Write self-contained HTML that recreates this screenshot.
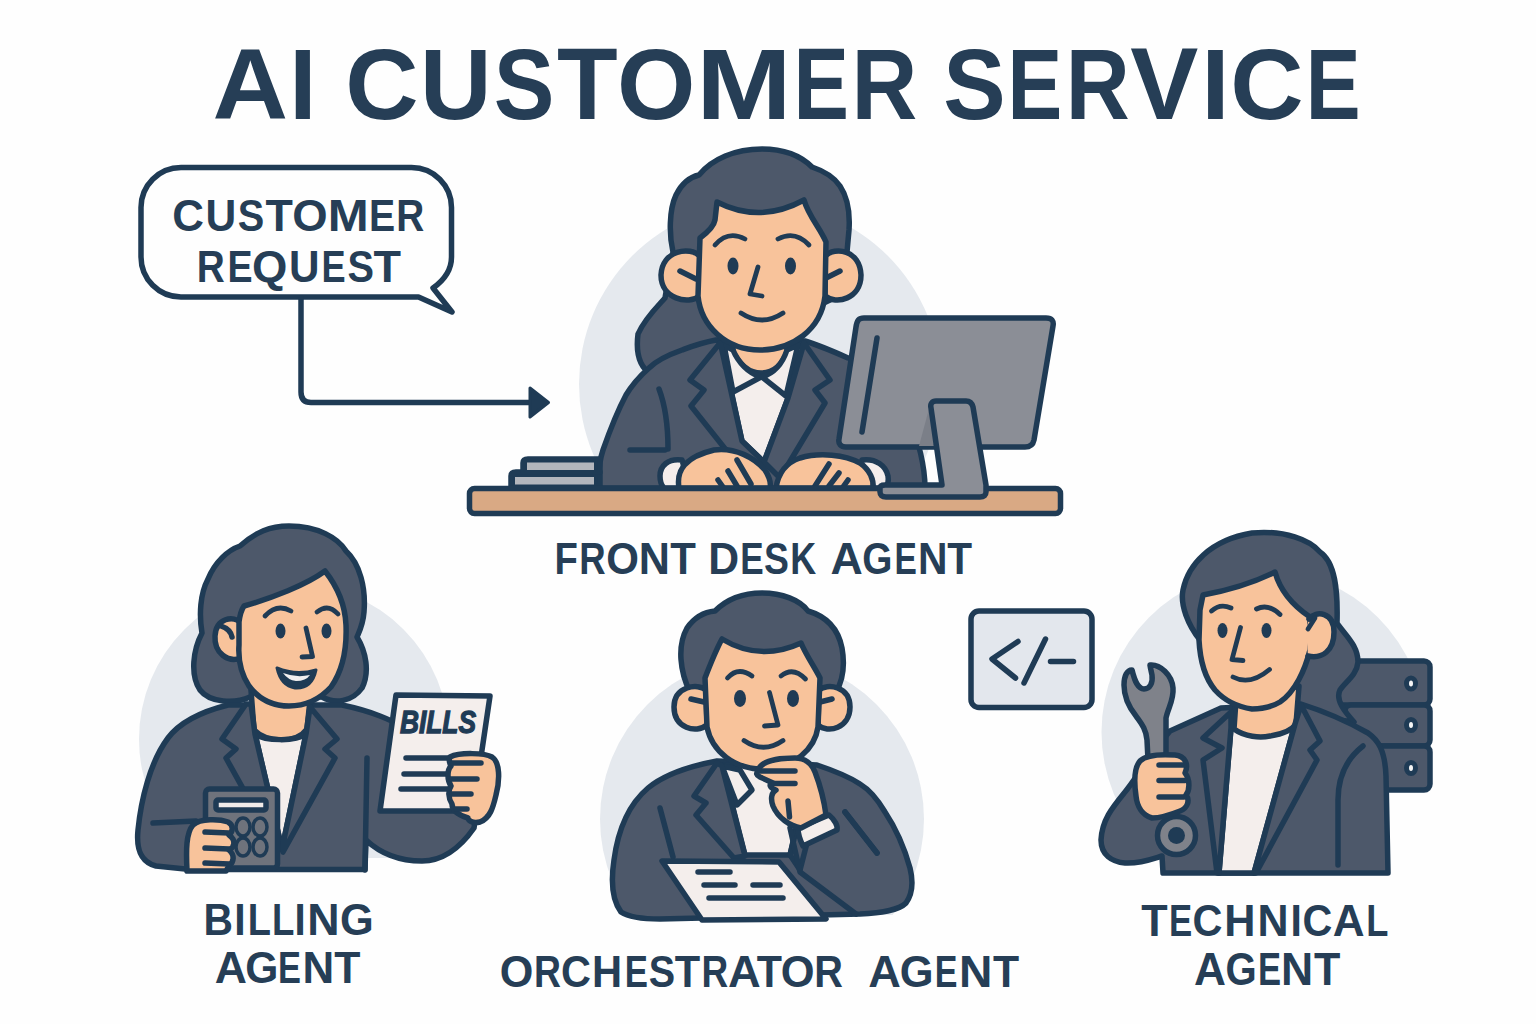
<!DOCTYPE html>
<html><head><meta charset="utf-8"><style>
html,body{margin:0;padding:0;background:#fff;width:1536px;height:1024px;overflow:hidden}
svg{display:block}
.o{stroke:#1f3b55;stroke-width:5.5;stroke-linejoin:round;stroke-linecap:round}
.h{fill:#4d586a}.sk{fill:#f8c39b}.w{fill:#f4eeec}.n{fill:none}.f{stroke-width:4.8}.d{fill:#1f3b55}
text{font-family:"Liberation Sans",sans-serif;font-weight:bold;fill:#263e56}
</style></head><body>
<svg width="1536" height="1024" viewBox="0 0 1536 1024">
<rect width="1536" height="1024" fill="#fefefe"/>
<defs>
<clipPath id="cfd"><rect x="0" y="0" width="1536" height="490"/></clipPath>
<clipPath id="cbil"><rect x="0" y="0" width="1536" height="858"/></clipPath>
<clipPath id="corc"><rect x="0" y="0" width="1536" height="915"/></clipPath>
<clipPath id="ctec"><rect x="0" y="0" width="1536" height="790"/><rect x="0" y="780" width="1388" height="93"/></clipPath>
</defs>
<!-- title -->
<g id="title">
<text transform="translate(215.20,119.00) scale(1.0358,1)" x="-2.52" y="0" font-size="101.02">A</text>
<text transform="translate(295.70,119.00) scale(0.9690,1)" x="-6.76" y="0" font-size="101.02">I</text>
<text transform="translate(349.40,119.00) scale(1.0053,1)" x="-4.14" y="0" font-size="101.02">C</text>
<text transform="translate(426.00,119.00) scale(0.9799,1)" x="-6.07" y="0" font-size="101.02">U</text>
<text transform="translate(496.30,119.00) scale(0.9005,1)" x="-2.91" y="0" font-size="101.02">S</text>
<text transform="translate(558.00,119.00) scale(0.9834,1)" x="-1.13" y="0" font-size="101.02">T</text>
<text transform="translate(621.00,119.00) scale(0.9973,1)" x="-4.14" y="0" font-size="101.02">O</text>
<text transform="translate(704.00,119.00) scale(1.1326,1)" x="-6.76" y="0" font-size="101.02">M</text>
<text transform="translate(799.00,119.00) scale(0.8222,1)" x="-6.76" y="0" font-size="101.02">E</text>
<text transform="translate(857.50,119.00) scale(0.9029,1)" x="-6.76" y="0" font-size="101.02">R</text>
<text transform="translate(946.00,119.00) scale(0.9253,1)" x="-2.91" y="0" font-size="101.02">S</text>
<text transform="translate(1013.00,119.00) scale(0.8116,1)" x="-6.76" y="0" font-size="101.02">E</text>
<text transform="translate(1071.70,119.00) scale(0.8780,1)" x="-6.76" y="0" font-size="101.02">R</text>
<text transform="translate(1131.00,119.00) scale(1.0106,1)" x="-0.69" y="0" font-size="101.02">V</text>
<text transform="translate(1208.00,119.00) scale(1.0102,1)" x="-6.76" y="0" font-size="101.02">I</text>
<text transform="translate(1234.40,119.00) scale(1.0053,1)" x="-4.14" y="0" font-size="101.02">C</text>
<text transform="translate(1311.30,119.00) scale(0.8134,1)" x="-6.76" y="0" font-size="101.02">E</text>
</g>
<!-- speech bubble -->
<g fill="none" stroke="#1f3b55" stroke-width="5.5" stroke-linejoin="round" stroke-linecap="round">
<path d="M181,167.5 H411.5 A40,40 0 0 1 451.5,207.5 V257 Q451.5,275 433,288 L452,312 L418.5,297 H181 A40,40 0 0 1 141,257 V207.5 A40,40 0 0 1 181,167.5 Z"/>
<path d="M301,298 V392 Q301,402.5 311,402.5 H532"/>
</g>
<path d="M530,388 L548.5,402.5 L530,417 Z" fill="#1f3b55" stroke="#1f3b55" stroke-width="3" stroke-linejoin="round"/>
<g id="t_cust">
<text transform="translate(174.10,230.80) scale(0.9711,1)" x="-1.85" y="0" font-size="45.20">C</text>
<text transform="translate(208.00,230.80) scale(0.9422,1)" x="-2.71" y="0" font-size="45.20">U</text>
<text transform="translate(238.80,230.80) scale(0.8788,1)" x="-1.30" y="0" font-size="45.20">S</text>
<text transform="translate(266.00,230.80) scale(0.9918,1)" x="-0.51" y="0" font-size="45.20">T</text>
<text transform="translate(294.20,230.80) scale(1.0061,1)" x="-1.85" y="0" font-size="45.20">O</text>
<text transform="translate(331.00,230.80) scale(1.0883,1)" x="-3.02" y="0" font-size="45.20">M</text>
<text transform="translate(371.50,230.80) scale(0.8675,1)" x="-3.02" y="0" font-size="45.20">E</text>
<text transform="translate(398.80,230.80) scale(0.8573,1)" x="-3.02" y="0" font-size="45.20">R</text>
</g>
<g id="t_req">
<text transform="translate(199.30,281.80) scale(0.8800,1)" x="-2.95" y="0" font-size="44.04">R</text>
<text transform="translate(230.00,281.80) scale(0.8539,1)" x="-2.95" y="0" font-size="44.04">E</text>
<text transform="translate(253.80,281.80) scale(1.0326,1)" x="-1.81" y="0" font-size="44.04">Q</text>
<text transform="translate(291.60,281.80) scale(0.9595,1)" x="-2.65" y="0" font-size="44.04">U</text>
<text transform="translate(324.00,281.80) scale(0.8216,1)" x="-2.95" y="0" font-size="44.04">E</text>
<text transform="translate(348.70,281.80) scale(0.9020,1)" x="-1.27" y="0" font-size="44.04">S</text>
<text transform="translate(374.00,281.80) scale(1.0218,1)" x="-0.49" y="0" font-size="44.04">T</text>
</g>
<!-- circles -->
<circle cx="760" cy="384" r="181" fill="#e5e9ee" clip-path="url(#cfd)"/>
<circle cx="294" cy="739" r="155" fill="#e5e9ee" clip-path="url(#cbil)"/>
<circle cx="762" cy="819" r="162" fill="#e5e9ee" clip-path="url(#corc)"/>
<circle cx="1263.5" cy="732" r="162" fill="#e5e9ee" clip-path="url(#ctec)"/>
<g id="fd">
<!-- hair back -->
<path class="o h" d="M673,252 C669,235 669,210 676,195 C682,183 690,177 699,175 C712,159 735,149 762,149 C785,149 802,157 812,167 C824,171 834,177 840,186 C848,198 850,215 849,230 L847,252 L830,300 L720,352 L651,374 C638,366 636,350 638,334 C645,318 658,306 665,298 Z"/>
<!-- suit -->
<path class="o h" d="M716,340 C700,343 690,347 682,350 C665,356 655,362 649,368 C640,376 632,385 626,395 C618,410 610,430 603,450 C599,462 598,475 599,488 L925,488 C925,470 920,440 905,410 C890,380 870,365 848,358 C830,350 815,344 805,341 Z"/>
<!-- shirt -->
<path class="o w" d="M721,344 L804,344 L788,398 L764,462 L742,441 Z"/>
<!-- neck -->
<path class="o sk" d="M733,340 L733,352 C740,365 750,373 761,373 C773,373 782,365 787,352 L787,340 Z"/>
<!-- collars -->
<path class="o w" d="M724,345 L733,392 L761,377 C748,373 738,362 733,350 Z"/>
<path class="o w" d="M798,345 L786,396 L762,377 C775,373 783,362 787,350 Z"/>
<!-- lapels -->
<path class="o h" d="M720,343 L690,380 L704,390 L691,406 L742,470 L764,462 L742,441 L721,346 Z"/>
<path class="o h" d="M804,343 L830,380 L815,390 L825,403 L780,478 L764,462 L788,398 Z"/>
<!-- arm lines -->
<path class="o n" d="M659,389 C667,410 668,430 668,449"/>
<path class="o n" d="M630,450 L665,450"/>
<!-- ears -->
<path class="o sk" d="M700,256 C690,246 662,250 661,275 C661,299 688,305 700,296 Z"/>
<path class="o n" d="M680,271 L696,279"/>
<path class="o sk" d="M825,256 C835,246 860,250 861,275 C861,299 836,305 825,296 Z"/>
<path class="o n" d="M840,271 L826,278"/>
<!-- face -->
<path class="o sk" d="M717,202 Q760,224 804,200 C808,215 820,228 826,242 L825,296 C821,330 792,350 760,350 C726,350 701,326 698,296 L700,238 C708,232 714,226 715,220 L717,202 Z"/>
<!-- features -->
<ellipse class="d" cx="733" cy="266" rx="5.5" ry="8.5"/>
<ellipse class="d" cx="790.5" cy="266" rx="5.5" ry="8.5"/>
<path class="o n f" d="M715,245 Q728,230 745,239"/>
<path class="o n f" d="M778,239 Q795,230 809,245"/>
<path class="o n f" d="M758,267 L750,294 L762,296"/>
<path class="o n f" d="M741,313 Q762,327 783,313"/>
<!-- hands -->
<path class="o w" d="M682,460 C668,458 660,466 660,476 C660,482 662,486 664,488 L690,488 Z"/>
<path class="o sk" d="M679,488 C676,470 685,457 714,450 C735,447 755,458 765,470 C770,478 771,484 770,488 Z"/>
<path class="o n" d="M718,480 L723,487 M728,471 L737,486 M737,460 L751,484"/>
<path class="o w" d="M862,460 C876,458 886,466 888,476 C889,482 887,486 885,488 L860,488 Z"/>
<path class="o sk" d="M776,488 C778,475 785,463 800,458 C820,452 845,455 860,463 C870,470 874,480 873,488 Z"/>
<path class="o n" d="M829,464 L815,486 M839,473 L829,486 M848,480 L843,487"/>
<!-- books -->
<path class="o d" d="M511,486 L511,476 C511,473 513,472 516,472 L600,472 L600,486 Z"/>
<path class="o d" d="M523,472 L523,463 C523,460 525,459 528,459 L600,459 L600,472 Z"/>
<rect x="515" y="477" width="79" height="7.5" fill="#b3b6bd"/>
<rect x="527" y="462.5" width="67" height="7.5" fill="#b3b6bd"/>
<!-- desk -->
<rect class="o" fill="#d9a984" x="469.5" y="488.5" width="591" height="25" rx="5"/>
<!-- monitor -->
<path class="o" fill="#8b8e96" d="M864,318 L1046,318 C1052,318 1054,321 1053,326 L1034,440 C1033,445 1030,447 1025,447 L846,447 C841,447 838,444 839,439 L856,327 C857,320 859,318 864,318 Z"/>
<path fill="#7b7f88" d="M919,446 L930,405 L934,446 Z"/>
<path class="o n" d="M877,338 L862,432"/>
<path class="o" fill="#8b8e96" d="M936,401 L966,401 C970,401 972,403 973,407 L986,485 L986,492 C986,495 984,497 980,497 L886,497 C882,497 880,495 880,492 L880,488 C880,486 882,485 885,485 L942,485 L931,408 C930,404 932,401 936,401 Z"/>
</g>
<g id="bil">
<path class="o h" d="M289,526 C318,526 338,538 346,551 C360,564 366,588 364,612 C363,625 359,632 357,637 C366,652 370,672 362,688 C352,702 335,704 322,697 L250,697 C235,704 210,703 200,690 C190,675 193,650 202,633 C199,615 200,594 208,579 C215,562 228,550 240,546 C256,532 270,526 289,526 Z"/>
<path class="o h" d="M228,705 C200,712 180,722 168,738 C150,762 141,800 138,830 C136,850 141,862 156,866 L190,869.5 L365,869.5 L366,840 C382,855 400,861 422,861 C442,861 460,848 474,828 L478,800 L420,735 C400,726 385,714 342,705 Z"/>
<path class="o sk" d="M251,690 L254,730 C262,738 272,740 281,740 C292,740 302,736 307,729 L310,700 Z"/>
<path class="o w" d="M255,734 C265,741 295,742 306,734 L282,849 Z"/>
<path class="o h" d="M246,704 L222,739 L236,749 L226,758 L266,830 L282,849 L255,734 L251,704 Z"/>
<path class="o h" d="M310,707 L337,739 L325,749 L335,758 L283,852 L282,849 L306,734 Z"/>
<path class="o n" d="M367,758 L365,870"/>
<path class="o sk" d="M242,623 C233,615 216,618 215,636 C214,653 228,663 241,658 Z"/>
<path class="o n" d="M221,626 C227,628 231,632 232,637"/>
<path class="o sk" d="M244,606 C272,598 306,585 325,571 C336,585 345,602 346,625 C347,650 343,670 331,687 C319,700 304,706 289,706 C272,706 258,698 249,686 C241,674 238,660 239,645 L239,622 C240,614 242,609 244,606 Z"/>
<ellipse class="d" cx="280.5" cy="631" rx="5" ry="7.5"/>
<ellipse class="d" cx="326.5" cy="631" rx="5" ry="7.5"/>
<path class="o n f" d="M265,616 Q277,603 291,611"/>
<path class="o n f" d="M317,612 Q328,603 338,614"/>
<path class="o n f" d="M306,628 L312.5,656.5 L302,657"/>
<path class="d" d="M277,668 Q296,676 316,670 Q312,689 295,688 Q281,686 277,668 Z" stroke="#1f3b55" stroke-width="3" stroke-linejoin="round"/>
<path fill="#f2f0f0" d="M283,673 Q296,678 310,675 Q306,681 296,681 Q288,680 283,673 Z"/>
<path class="o n" d="M153,823 L196,821"/>
<rect class="o" fill="#6f737c" x="205.5" y="789" width="72" height="79" rx="4"/>
<rect class="o" fill="#f0ebe9" x="216" y="800" width="50" height="10" rx="2" stroke-width="4"/>
<g fill="#6f737c" stroke="#1f3b55" stroke-width="3.5"><ellipse cx="243" cy="827" rx="7" ry="9"/><ellipse cx="260" cy="827" rx="7" ry="9"/><ellipse cx="243" cy="847" rx="7" ry="9"/><ellipse cx="260" cy="847" rx="7" ry="9"/></g>
<path class="o sk" d="M187,871 C186,850 186,833 193,825 C200,818 220,819 228,822 C234,825 233,832 229,835 C236,840 235,847 229,850 C235,855 234,862 229,866 L226,871 Z"/>
<path class="o n" d="M205,832 L229,833 M205,848 L229,849 M205,863 L229,864"/>
<path class="o w" d="M396,695 L490,696 L473,811 L380,811 Z"/>
<text x="400" y="732.5" font-size="31" font-style="italic" textLength="76" lengthAdjust="spacingAndGlyphs" style="fill:#1f3b55;stroke:#1f3b55;stroke-width:1.3">BILLS</text>
<path class="o n" d="M406,758 L451,758 M404,774 L451,774 M401,789 L451,789"/>
<path class="o sk" d="M450,757 C460,752 485,753 492,757 C500,762 500,780 496,795 C493,808 490,818 480,822 C472,824 468,820 468,818 C458,815 452,810 452,804 C448,798 448,790 451,786 C447,780 447,770 451,766 C449,762 449,759 450,757 Z"/>
<path class="o n" d="M452,763 L481,763 M451,779 L477,779 M452,794 L471,794 M456,809 L467,809"/>
</g>
<g id="orc">
<path class="o h" d="M690,692 C680,672 677,646 687,628 C694,618 704,612 715,611 C728,598 745,593 762,593 C782,593 800,600 808,611 C825,616 838,628 842,648 C845,665 843,680 836,692 Z"/>
<path class="o h" d="M717,761 C690,766 665,774 648,788 C628,805 618,830 614,860 C611,880 612,900 621,912 C630,918 645,919 660,919 L860,914 C880,913 898,911 906,903 C913,893 913,880 910,868 C905,850 897,830 885,812 C878,800 870,790 860,784 C848,776 832,770 817,765 Z"/>
<path class="o w" d="M722,765 L810,765 L790,855 L745,855 Z"/>
<path class="o w" d="M722,766 L737,805 L752,790 L740,770 Z"/>
<path class="o h" d="M717,763 L694,796 L706,803 L696,815 L734,858 L745,856 L722,766 Z"/>
<path class="o h" d="M812,765 L790,855 L800,870 L818,800 Z"/>
<path class="o n" d="M660,808 L673,857 M877,853 L845,812"/>
<path class="o sk" d="M706,690 C698,683 674,686 674,707 C674,728 696,734 707,725 Z"/>
<path class="o n" d="M691,699 L704,702"/>
<path class="o sk" d="M819,690 C827,683 850,686 850,707 C850,728 828,734 818,725 Z"/>
<path class="o n" d="M832,699 L820,702"/>
<path class="o sk" d="M722,639 Q760,662 801,643 C806,655 815,668 820,678 L818,727 C815,748 795,769 762,769 C735,769 712,752 707,727 L705,678 C710,665 716,650 722,639 Z"/>
<ellipse class="d" cx="740" cy="698.5" rx="6" ry="8.5"/>
<ellipse class="d" cx="793" cy="698.5" rx="6" ry="8.5"/>
<path class="o n f" d="M727.5,678 Q738,666 752,676"/>
<path class="o n f" d="M781,676 Q793,666 805.5,679"/>
<path class="o n f" d="M769.5,692.5 L778,725 L764.5,726"/>
<path class="o n f" d="M744,740.5 Q763.5,754 783,740.5"/>
<path class="o n" d="M790,828 L800,872 L856,914 M845,812 L877,853"/>
<path class="o w" d="M798,828 L829,815 C835,820 838,826 837,830 L803,846 C800,840 798,834 798,828 Z"/>
<path class="o sk" d="M758,771 C760,762 775,758 795,758 C805,758 812,764 815,772 C820,785 824,800 826,815 L801,828 C790,826 778,818 773,806 C770,798 772,792 776,790 C770,788 768,784 773,783 L760,777 C756,775 756,773 758,771 Z"/>
<path class="o n" d="M760,771 L795,771 M774,783.5 L795,783.5 M788,801 L789.5,817"/>
<path class="o w" d="M662,861 L779,862 L826,919 L702,920 Z"/>
<path class="o n" d="M698,872 L730,872 M704,885 L735,885 M753,885 L780,885 M709,898 L783,898"/>
</g>
<g id="tec">
<rect class="o" fill="#4d586a" x="1330" y="661" width="100" height="44" rx="6"/>
<rect class="o" fill="#4d586a" x="1345" y="705" width="85" height="41" rx="6"/>
<rect class="o" fill="#4d586a" x="1360" y="746" width="70" height="44" rx="6"/>
<g fill="#f4f4f4" stroke="#1f3b55" stroke-width="5"><ellipse cx="1411" cy="683.5" rx="4.5" ry="5.5"/><ellipse cx="1411" cy="725" rx="4.5" ry="5.5"/><ellipse cx="1411" cy="768" rx="4.5" ry="5.5"/></g>
<path class="o h" d="M1200,640 C1188,625 1180,605 1183,590 C1188,565 1210,540 1252,533 C1285,530 1310,540 1320,552 C1335,562 1338,590 1337,623 C1345,635 1358,645 1358,662 C1357,675 1345,682 1340,690 C1335,700 1345,712 1354,722 L1300,715 L1260,700 L1210,660 Z"/>
<path class="o h" d="M1221,708 L1170,731 C1150,755 1135,780 1125,792 C1112,808 1102,820 1101,840 C1101,855 1112,862 1125,863 C1140,864 1155,858 1162,856 L1163,873 L1388,873 L1386,776 C1385,750 1378,740 1368,733 C1345,720 1320,710 1301,704 Z"/>
<path class="o w" d="M1231,728 L1295,724 L1254,873 L1219,873 Z"/>
<path class="o sk" d="M1236,700 L1234,729 C1245,737 1260,738 1270,736 C1283,734 1292,730 1296,724 L1299,686 Z"/>
<path class="o h" d="M1231,712 L1203,738 L1222,748 L1203,760 L1217,873 L1219,873 L1231,728 Z"/>
<path class="o h" d="M1301,705 L1320,741 L1310,750 L1317,760 L1256,873 L1254,873 L1295,724 Z"/>
<path class="o n" d="M1363,746 C1345,760 1338,780 1338,800 L1338,865"/>
<path class="o sk" d="M1203,595 C1230,590 1255,582 1275,572 C1280,590 1292,605 1310,617 L1310,650 C1305,670 1295,692 1280,702 C1270,708 1262,709 1252,709 C1238,707 1224,700 1215,690 C1205,678 1200,660 1199,640 L1200,610 Z"/>
<path class="sk" d="M1309,619 C1316,610 1334,612 1334,632 C1334,651 1322,659 1308,656 L1306,630 Z"/>
<path class="o n" d="M1309,619 C1316,610 1334,612 1334,632 C1334,651 1322,659 1308,656"/>
<path class="o n f" d="M1308,629 L1315,618"/>
<ellipse class="d" cx="1222.5" cy="630.5" rx="5" ry="7.5"/>
<ellipse class="d" cx="1266.5" cy="630.5" rx="5" ry="7.5"/>
<path class="o n f" d="M1211.5,611 Q1220,603 1231,608"/>
<path class="o n f" d="M1256.5,609 Q1268,603 1280,614.5"/>
<path class="o n f" d="M1240.5,627.5 L1232,659.5 L1243,660.5"/>
<path class="o n f" d="M1233,677 Q1250,686 1269.5,669.5"/>
<path class="o" fill="#7f828a" d="M1132,670 C1135,682 1138,689 1144,689 C1150,689 1153,683 1152,675 C1151,670 1150,666 1150,665 C1160,664 1172,675 1173,688 C1174,700 1168,708 1166,718 L1166,760 L1148,760 L1147,740 C1146,728 1140,722 1136,716 C1128,706 1124,695 1124,685 C1124,676 1127,670 1132,670 Z"/>
<circle class="o" fill="#7f828a" cx="1176.5" cy="835.5" r="19"/>
<circle class="d" cx="1176.5" cy="835.5" r="8.5"/>
<path class="o sk" d="M1136,796 C1134,782 1134,768 1140,761 C1146,755 1160,754 1175,755 C1185,756 1189,764 1185,773 C1190,779 1190,790 1186,795 C1190,800 1188,808 1180,811 C1170,815 1160,818 1152,818 C1142,815 1137,806 1136,796 Z"/>
<path class="o n" d="M1159,765 L1184,765 M1159,780.5 L1185,780.5 M1159,797 L1184,797"/>
</g>
<g id="code">
<rect class="o" fill="#e3e7ed" x="971" y="611" width="121" height="96.5" rx="8"/>
<path class="o n" d="M1018,641.5 L992,659 L1015.5,678 M1045.5,639 L1024,683 M1050.5,661.5 L1073.5,661.5" stroke-width="4.5"/>
</g>
<!-- labels -->
<g id="t_fd">
<text transform="translate(557.00,573.60) scale(0.8654,1)" x="-2.96" y="0" font-size="44.19">F</text>
<text transform="translate(581.70,573.60) scale(0.8271,1)" x="-2.96" y="0" font-size="44.19">R</text>
<text transform="translate(607.90,573.60) scale(0.9511,1)" x="-1.81" y="0" font-size="44.19">O</text>
<text transform="translate(641.60,573.60) scale(0.9778,1)" x="-2.96" y="0" font-size="44.19">N</text>
<text transform="translate(670.80,573.60) scale(0.9493,1)" x="-0.50" y="0" font-size="44.19">T</text>
<text transform="translate(711.20,573.60) scale(0.9668,1)" x="-2.96" y="0" font-size="44.19">D</text>
<text transform="translate(742.70,573.60) scale(0.7947,1)" x="-2.96" y="0" font-size="44.19">E</text>
<text transform="translate(765.00,573.60) scale(0.8461,1)" x="-1.27" y="0" font-size="44.19">S</text>
<text transform="translate(792.70,573.60) scale(0.8128,1)" x="-2.96" y="0" font-size="44.19">K</text>
<text transform="translate(831.60,573.60) scale(1.0120,1)" x="-1.10" y="0" font-size="44.19">A</text>
<text transform="translate(863.80,573.60) scale(0.8787,1)" x="-1.81" y="0" font-size="44.19">G</text>
<text transform="translate(896.70,573.60) scale(0.7584,1)" x="-2.96" y="0" font-size="44.19">E</text>
<text transform="translate(920.70,573.60) scale(0.9239,1)" x="-2.96" y="0" font-size="44.19">N</text>
<text transform="translate(947.70,573.60) scale(0.9185,1)" x="-0.50" y="0" font-size="44.19">T</text>
</g>
<g id="t_bil">
<text transform="translate(206.10,934.80) scale(0.9301,1)" x="-2.94" y="0" font-size="43.90">B</text>
<text transform="translate(236.90,934.80) scale(0.9331,1)" x="-2.94" y="0" font-size="43.90">I</text>
<text transform="translate(250.20,934.80) scale(0.8656,1)" x="-2.94" y="0" font-size="43.90">L</text>
<text transform="translate(274.40,934.80) scale(0.8346,1)" x="-2.94" y="0" font-size="43.90">L</text>
<text transform="translate(297.30,934.80) scale(0.9173,1)" x="-2.94" y="0" font-size="43.90">I</text>
<text transform="translate(310.20,934.80) scale(1.0191,1)" x="-2.94" y="0" font-size="43.90">N</text>
<text transform="translate(341.80,934.80) scale(0.9892,1)" x="-1.80" y="0" font-size="43.90">G</text>
</g>
<g id="t_bag">
<text transform="translate(215.80,982.90) scale(1.0153,1)" x="-1.09" y="0" font-size="43.90">A</text>
<text transform="translate(246.90,982.90) scale(0.9689,1)" x="-1.80" y="0" font-size="43.90">G</text>
<text transform="translate(280.30,982.90) scale(0.7837,1)" x="-2.94" y="0" font-size="43.90">E</text>
<text transform="translate(305.50,982.90) scale(0.9998,1)" x="-2.94" y="0" font-size="43.90">N</text>
<text transform="translate(334.80,982.90) scale(0.9749,1)" x="-0.49" y="0" font-size="43.90">T</text>
</g>
<g id="t_orc">
<text transform="translate(501.40,986.50) scale(0.9582,1)" x="-1.85" y="0" font-size="45.06">O</text>
<text transform="translate(536.50,986.50) scale(0.8286,1)" x="-3.01" y="0" font-size="45.06">R</text>
<text transform="translate(562.70,986.50) scale(0.9199,1)" x="-1.85" y="0" font-size="45.06">C</text>
<text transform="translate(594.90,986.50) scale(0.9249,1)" x="-3.01" y="0" font-size="45.06">H</text>
<text transform="translate(627.00,986.50) scale(0.7714,1)" x="-3.01" y="0" font-size="45.06">E</text>
<text transform="translate(649.90,986.50) scale(0.8779,1)" x="-1.30" y="0" font-size="45.06">S</text>
<text transform="translate(675.30,986.50) scale(0.9234,1)" x="-0.51" y="0" font-size="45.06">T</text>
<text transform="translate(704.00,986.50) scale(0.8216,1)" x="-3.01" y="0" font-size="45.06">R</text>
<text transform="translate(729.00,986.50) scale(1.0056,1)" x="-1.12" y="0" font-size="45.06">A</text>
<text transform="translate(757.30,986.50) scale(0.9158,1)" x="-0.51" y="0" font-size="45.06">T</text>
<text transform="translate(782.60,986.50) scale(0.9646,1)" x="-1.85" y="0" font-size="45.06">O</text>
<text transform="translate(816.90,986.50) scale(0.8811,1)" x="-3.01" y="0" font-size="45.06">R</text>
</g>
<g id="t_oag">
<text transform="translate(869.30,986.50) scale(1.0023,1)" x="-1.12" y="0" font-size="45.06">A</text>
<text transform="translate(901.60,986.50) scale(0.9636,1)" x="-1.85" y="0" font-size="45.06">G</text>
<text transform="translate(937.00,986.50) scale(0.7555,1)" x="-3.01" y="0" font-size="45.06">E</text>
<text transform="translate(962.20,986.50) scale(1.0268,1)" x="-3.01" y="0" font-size="45.06">N</text>
<text transform="translate(993.50,986.50) scale(0.9497,1)" x="-0.51" y="0" font-size="45.06">T</text>
</g>
<g id="t_tec">
<text transform="translate(1141.80,935.60) scale(0.9859,1)" x="-0.49" y="0" font-size="43.75">T</text>
<text transform="translate(1171.40,935.60) scale(0.7944,1)" x="-2.93" y="0" font-size="43.75">E</text>
<text transform="translate(1194.20,935.60) scale(0.9474,1)" x="-1.79" y="0" font-size="43.75">C</text>
<text transform="translate(1227.20,935.60) scale(0.9875,1)" x="-2.93" y="0" font-size="43.75">H</text>
<text transform="translate(1260.30,935.60) scale(0.9836,1)" x="-2.93" y="0" font-size="43.75">N</text>
<text transform="translate(1293.30,935.60) scale(0.9362,1)" x="-2.93" y="0" font-size="43.75">I</text>
<text transform="translate(1304.30,935.60) scale(0.9439,1)" x="-1.79" y="0" font-size="43.75">C</text>
<text transform="translate(1333.90,935.60) scale(1.0084,1)" x="-1.09" y="0" font-size="43.75">A</text>
<text transform="translate(1368.60,935.60) scale(0.8284,1)" x="-2.93" y="0" font-size="43.75">L</text>
</g>
<g id="t_tag">
<text transform="translate(1195.00,984.70) scale(0.9731,1)" x="-1.13" y="0" font-size="45.49">A</text>
<text transform="translate(1227.20,984.70) scale(0.8827,1)" x="-1.87" y="0" font-size="45.49">G</text>
<text transform="translate(1260.30,984.70) scale(0.7601,1)" x="-3.04" y="0" font-size="45.49">E</text>
<text transform="translate(1284.00,984.70) scale(0.9796,1)" x="-3.04" y="0" font-size="45.49">N</text>
<text transform="translate(1314.40,984.70) scale(0.9481,1)" x="-0.51" y="0" font-size="45.49">T</text>
</g>
</svg>
</body></html>
